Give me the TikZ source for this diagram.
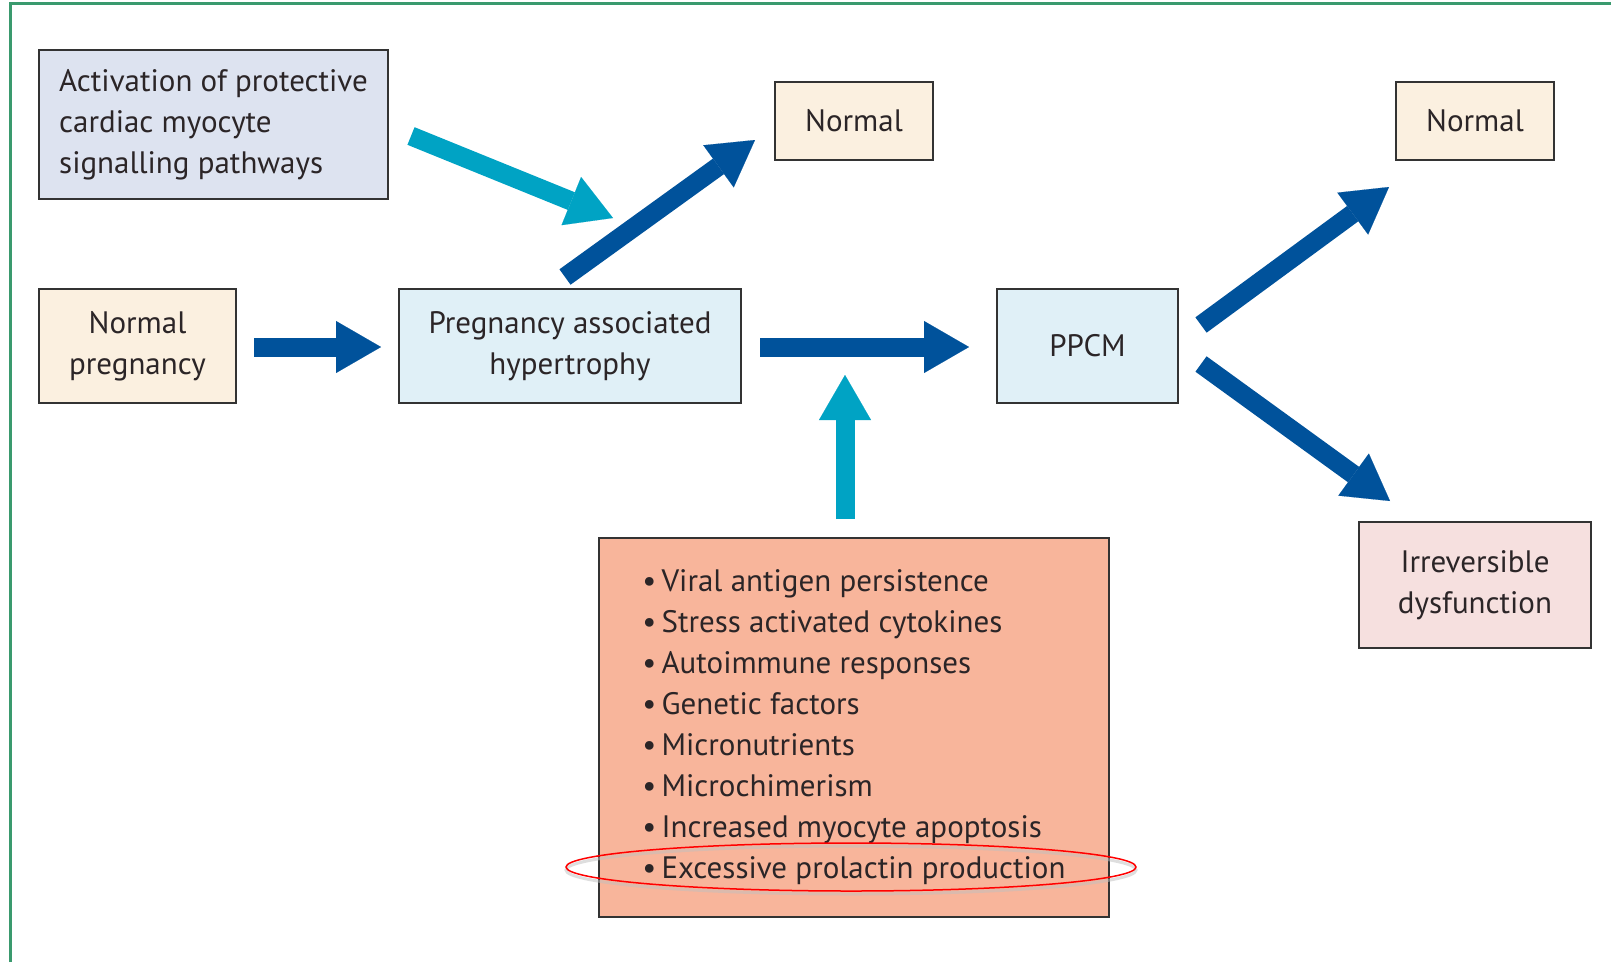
\documentclass[tikz,border=0pt]{standalone}
\usepackage{fontspec}
\setmainfont{PT Sans}
\usetikzlibrary{arrows.meta}
\definecolor{dblue}{HTML}{00529B}
\definecolor{cyanA}{HTML}{00A3C4}
\definecolor{frameg}{HTML}{3A9A6E}
\definecolor{boxcream}{HTML}{FBF0E0}
\definecolor{boxlav}{HTML}{DDE3F0}
\definecolor{boxblue}{HTML}{E0F0F7}
\definecolor{boxpink}{HTML}{F6E0DF}
\definecolor{boxsalmon}{HTML}{F8B59B}
\definecolor{txt}{HTML}{2B2527}
\definecolor{edgec}{HTML}{333333}
\begin{document}
\begin{tikzpicture}[x=1pt,y=-1pt,
  box/.style={draw=edgec, line width=2.2pt, text=txt, font=\fontsize{31}{41}\selectfont, inner sep=0pt, align=center},
  fat/.style={line width=19pt, -{Triangle[length=45pt,width=52pt,line width=0.1pt]}},
  darkarrow/.style={fat, draw=dblue},
  cyanarrow/.style={fat, draw=cyanA}]
\useasboundingbox (0,0) rectangle (1611,962);
\fill[white] (0,0) rectangle (1611,962);
% frame
\draw[frameg, line width=3pt] (10,962) -- (10,3) -- (1611,3);
% boxes
\node[box, fill=boxlav, minimum width=349pt, minimum height=149pt, align=left] (act) at (213.5,124.5) {Activation of protective\\cardiac myocyte\\signalling pathways};
\node[box, fill=boxcream, minimum width=197pt, minimum height=114pt] (np) at (137.5,346) {Normal\\pregnancy};
\node[box, fill=boxblue, minimum width=342pt, minimum height=114pt] (pah) at (570,346) {Pregnancy associated\\hypertrophy};
\node[box, fill=boxblue, minimum width=181pt, minimum height=114pt] (ppcm) at (1087.5,346) {PPCM};
\node[box, fill=boxcream, minimum width=158pt, minimum height=78pt] (n1) at (854,121) {Normal};
\node[box, fill=boxcream, minimum width=158pt, minimum height=78pt] (n2) at (1475,121) {Normal};
\node[box, fill=boxpink, minimum width=232pt, minimum height=126pt] (irr) at (1475,585) {Irreversible\\dysfunction};
\node[box, fill=boxsalmon, minimum width=510pt, minimum height=379pt, align=left] (fac) at (854,727.5) {%
\textbullet\,Viral antigen persistence\\
\textbullet\,Stress activated cytokines\\
\textbullet\,Autoimmune responses\\
\textbullet\,Genetic factors\\
\textbullet\,Micronutrients\\
\textbullet\,Microchimerism\\
\textbullet\,Increased myocyte apoptosis\\
\textbullet\,Excessive prolactin production};
% highlight ellipse
\draw[black!25, line width=3pt, opacity=0.5] (851,870) ellipse [x radius=285, y radius=24];
\draw[red, line width=1.5pt] (851,867) ellipse [x radius=285, y radius=24];
% arrow end points
\coordinate (a1s) at (254,347); \coordinate (a1e) at (381,347);
\coordinate (a2s) at (760,347); \coordinate (a2e) at (969,347);
\coordinate (a3s) at (845,519); \coordinate (a3e) at (845,375);
\coordinate (a4s) at (411,136); \coordinate (a4e) at (613,218);
\coordinate (a5s) at (565,277); \coordinate (a5e) at (755,140);
\coordinate (a6s) at (1201,325); \coordinate (a6e) at (1389,187);
\coordinate (a7s) at (1201,364); \coordinate (a7e) at (1390,501);
% arrows
\draw[darkarrow] (a1s) -- (a1e);
\draw[darkarrow] (a2s) -- (a2e);
\draw[cyanarrow] (a3s) -- (a3e);
\draw[cyanarrow] (a4s) -- (a4e);
\draw[darkarrow] (a5s) -- (a5e);
\draw[darkarrow] (a6s) -- (a6e);
\draw[darkarrow] (a7s) -- (a7e);
\end{tikzpicture}
\end{document}
